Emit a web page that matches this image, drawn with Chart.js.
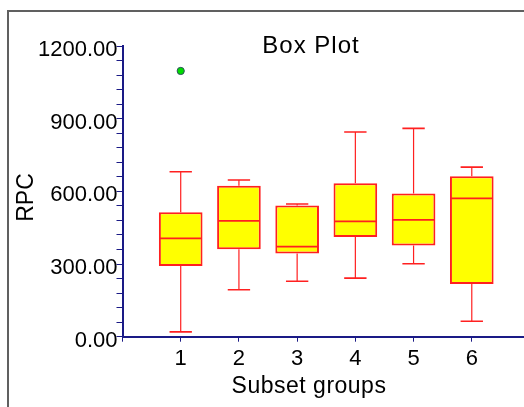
<!DOCTYPE html>
<html>
<head>
<meta charset="utf-8">
<title>Box Plot</title>
<script src="https://cdn.jsdelivr.net/npm/chart.js@4/dist/chart.umd.min.js"></script>
<style>
  html, body { margin: 0; padding: 0; background: #ffffff; overflow: hidden; width: 524px; height: 407px; }
  #wrap { position: relative; width: 524px; height: 407px; overflow: hidden; }
  #frame { position: absolute; left: 7px; top: 10px; width: 600px; height: 500px;
           border-left: 2px solid #606060; border-top: 2px solid #606060; box-sizing: border-box; }
  #chart { position: absolute; left: 0; top: 0; }
</style>
</head>
<body>
<div id="wrap">
  <div id="frame"></div>
  <canvas id="chart" width="540" height="407"></canvas>
</div>
<script>
// Subset groups and their five-number summaries (RPC)
const groups       = [1, 2, 3, 4, 5, 6];
const groupLabels  = ['1', '2', '3', '4', '5', '6'];
const whiskerLow   = [20, 194, 229, 242, 301, 64];
const quartile1    = [292, 361, 343, 412, 376, 218];
const medians      = [406, 478, 372, 476, 482, 571];
const quartile3    = [514, 623, 542, 633, 591, 662];
const whiskerHigh  = [681, 647, 548, 845, 860, 700];
// Points beyond the whiskers
const outlierGroups = [1];
const outlierValues = [1097];

const AXIS = '#1a1a86';
const RED = '#ff2020';
const FONT = "'Liberation Sans', Arial, sans-serif";

// Whiskers, caps and median lines drawn over the floating-bar boxes
const boxParts = {
  id: 'boxParts',
  afterDatasetsDraw(chart) {
    const ctx = chart.ctx;
    const ys = chart.scales.y;
    const meta = chart.getDatasetMeta(0);
    ctx.save();
    ctx.strokeStyle = RED;
    meta.data.forEach((bar, i) => {
      const x = bar.x;
      const w = bar.width;
      const capHalf = w * 0.256;
      const yHi = ys.getPixelForValue(whiskerHigh[i]);
      const yLo = ys.getPixelForValue(whiskerLow[i]);
      const yQ3 = ys.getPixelForValue(quartile3[i]);
      const yQ1 = ys.getPixelForValue(quartile1[i]);
      const yMed = ys.getPixelForValue(medians[i]);
      ctx.lineWidth = 1.2;
      ctx.beginPath();
      ctx.moveTo(x, yQ3); ctx.lineTo(x, yHi);
      ctx.moveTo(x, yQ1); ctx.lineTo(x, yLo);
      ctx.stroke();
      ctx.lineWidth = 1.6;
      ctx.beginPath();
      ctx.moveTo(x - capHalf, yHi); ctx.lineTo(x + capHalf, yHi);
      ctx.moveTo(x - capHalf, yLo); ctx.lineTo(x + capHalf, yLo);
      ctx.stroke();
      ctx.lineWidth = 1.8;
      ctx.beginPath();
      ctx.moveTo(x - w / 2 + 1, yMed); ctx.lineTo(x + w / 2 - 1, yMed);
      ctx.stroke();
    });
    ctx.restore();
  }
};

// Chart title and axis titles
const titles = {
  id: 'titles',
  afterDraw(chart) {
    const ctx = chart.ctx;
    ctx.save();
    ctx.fillStyle = '#000000';
    ctx.textBaseline = 'alphabetic';
    ctx.textAlign = 'center';
    if ('letterSpacing' in ctx) ctx.letterSpacing = '1px';
    ctx.font = '24px ' + FONT;
    ctx.fillText('Box Plot', 311, 53);
    if ('letterSpacing' in ctx) ctx.letterSpacing = '0.5px';
    ctx.font = '23px ' + FONT;
    ctx.fillText('Subset groups', 309, 393);
    if ('letterSpacing' in ctx) ctx.letterSpacing = '0px';
    ctx.translate(33, 197.5);
    ctx.rotate(-Math.PI / 2);
    ctx.fillText('RPC', 0, 0);
    ctx.restore();
  }
};

new Chart(document.getElementById('chart'), {
  type: 'bar',
  data: {
    datasets: [
      {
        label: 'Interquartile range',
        data: groups.map((g, i) => ({ x: g, y: [quartile1[i], quartile3[i]] })),
        backgroundColor: '#ffff00',
        borderColor: RED,
        borderWidth: 2,
        borderSkipped: false,
        barPercentage: 0.75,
        categoryPercentage: 1.0,
        order: 2
      },
      {
        type: 'scatter',
        label: 'Outliers',
        data: outlierGroups.map((g, i) => ({ x: g, y: outlierValues[i] })),
        pointRadius: 3.6,
        pointBackgroundColor: '#00dd00',
        pointBorderColor: '#2f4f5f',
        pointBorderWidth: 1,
        order: 1
      }
    ]
  },
  options: {
    responsive: false,
    animation: false,
    devicePixelRatio: 1,
    layout: { padding: { left: 0, top: 46, right: 10, bottom: 0 } },
    plugins: {
      legend: { display: false },
      tooltip: { enabled: false },
      title: { display: false }
    },
    scales: {
      x: {
        type: 'linear',
        min: 0,
        max: 7,
        offset: false,
        grid: { display: true, drawOnChartArea: false, drawTicks: true, tickLength: 5,
                tickColor: AXIS, tickWidth: 1, offset: false },
        border: { display: true, color: AXIS, width: 2 },
        ticks: {
          stepSize: 1,
          autoSkip: false,
          maxRotation: 0,
          padding: 4,
          color: '#000000',
          font: { family: FONT, size: 22 },
          callback: (v) => (v >= 1 && v <= groupLabels.length) ? groupLabels[v - 1] : ''
        },
        afterFit: (s) => { s.height = 70.3; }
      },
      y: {
        min: 0,
        max: 1200,
        grid: { display: true, drawOnChartArea: false, drawTicks: true, tickLength: 6,
                tickColor: AXIS, tickWidth: 1 },
        border: { display: true, color: AXIS, width: 2 },
        ticks: {
          stepSize: 60,
          autoSkip: false,
          padding: -1,
          labelOffset: 4,
          color: '#000000',
          font: { family: FONT, size: 22 },
          callback: (v) => (v % 300 === 0) ? v.toFixed(2) : ''
        },
        afterFit: (s) => { s.width = 122.5; }
      }
    }
  },
  plugins: [boxParts, titles]
});
</script>
</body>
</html>
